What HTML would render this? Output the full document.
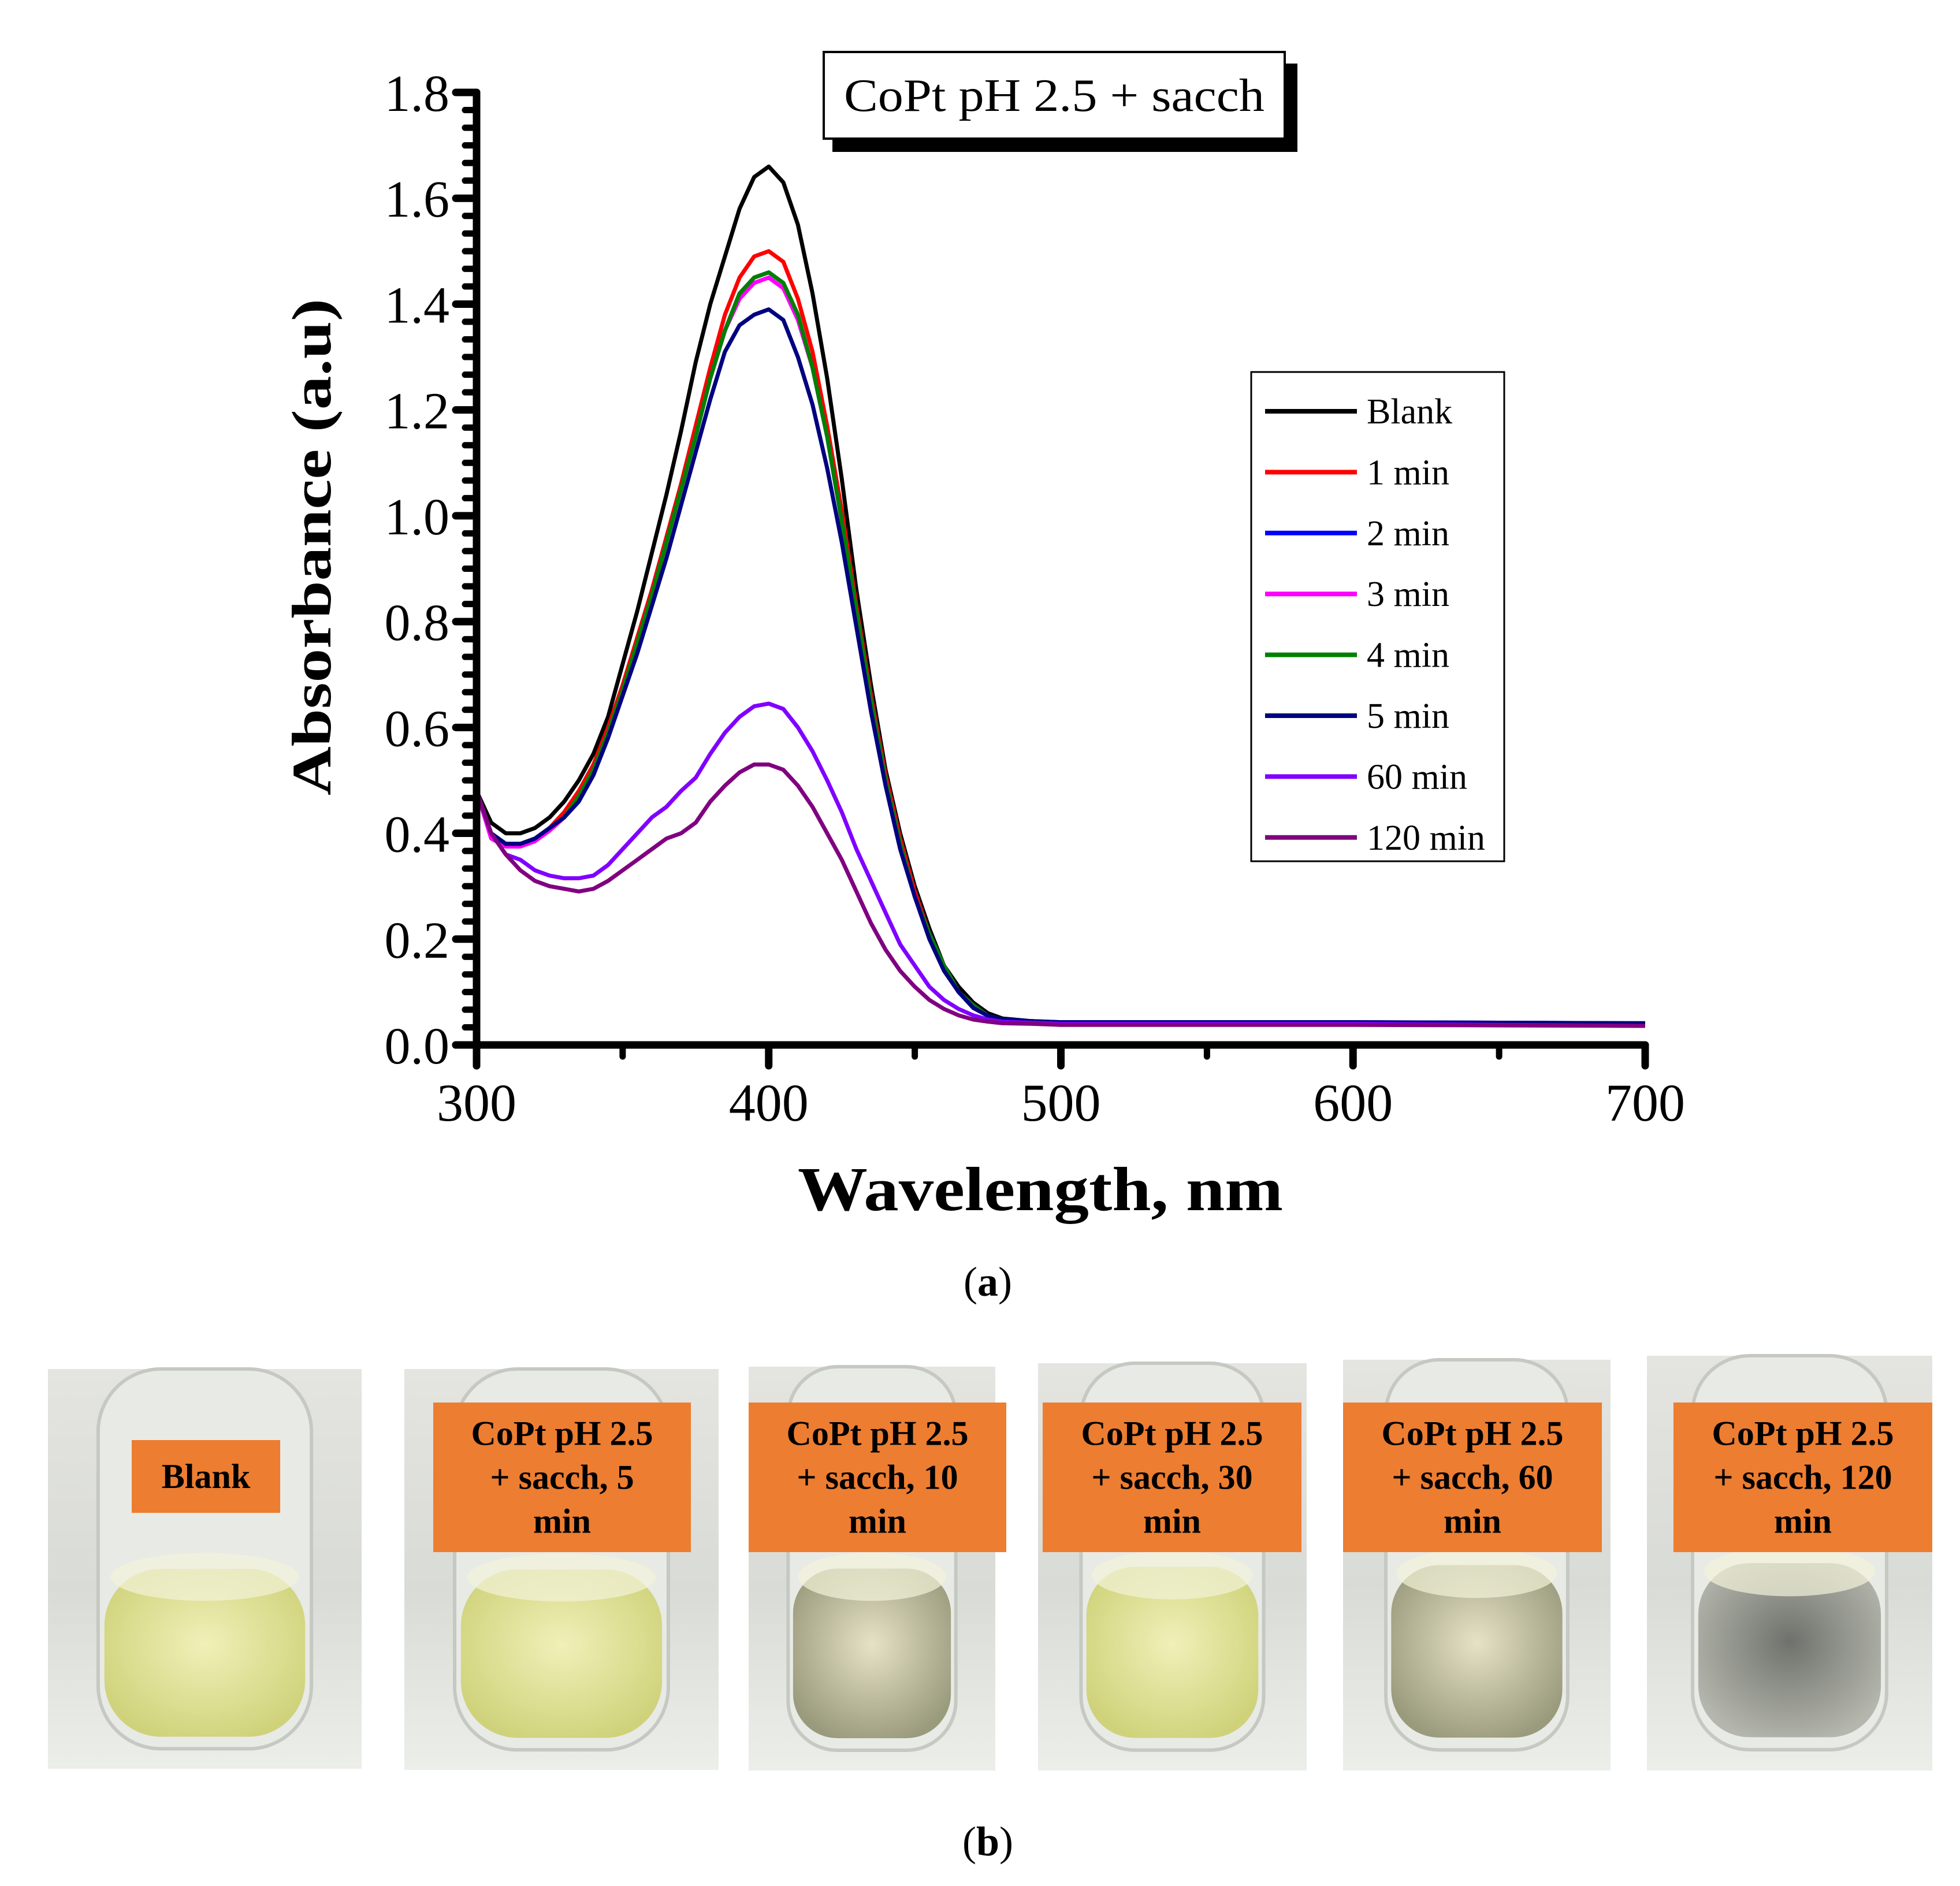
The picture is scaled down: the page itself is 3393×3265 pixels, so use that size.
<!DOCTYPE html>
<html><head><meta charset="utf-8"><style>
html,body{margin:0;padding:0;background:#fff;}
svg{display:block;font-family:"Liberation Serif",serif;}
</style></head><body>
<svg id="fig" width="3393" height="3265" viewBox="0 0 3393 3265" xmlns="http://www.w3.org/2000/svg">
<defs>
<linearGradient id="glassBg" x1="0" y1="0" x2="0" y2="1"><stop offset="0" stop-color="#e4e4e0"/><stop offset="0.55" stop-color="#d9dbd6"/><stop offset="1" stop-color="#eceeea"/></linearGradient>
<radialGradient id="liqY" cx="0.5" cy="0.45" r="0.6"><stop offset="0" stop-color="#f0f0b8"/><stop offset="1" stop-color="#cfd27a"/></radialGradient>
<radialGradient id="liqG" cx="0.5" cy="0.45" r="0.6"><stop offset="0" stop-color="#e6e2c6"/><stop offset="1" stop-color="#9a9a7c"/></radialGradient>
<radialGradient id="liqD" cx="0.5" cy="0.45" r="0.6"><stop offset="0" stop-color="#6f726c"/><stop offset="1" stop-color="#b5b7ae"/></radialGradient>
</defs>
<g id="chart"></g>
<g id="photos"></g>
<text x="1710" y="2243" font-size="72" text-anchor="middle">(<tspan font-weight="bold">a</tspan>)</text>
<text x="1710" y="3212" font-size="72" text-anchor="middle">(<tspan font-weight="bold">b</tspan>)</text>
</svg>
<script>
const wavelengths=[300,305,310,315,320,325,330,335,340,345,350,355,360,365,370,375,380,385,390,395,400,405,410,415,420,425,430,435,440,445,450,455,460,465,470,475,480,490,500,550,600,650,700];
const seriesNames=["Blank","1 min","2 min","3 min","4 min","5 min","60 min","120 min"];
const seriesColors=["#000000","#ff0000","#0000ff","#ff00ff","#008000","#000080","#8000ff","#800080"];
const blankVals=[0.48,0.42,0.40,0.40,0.41,0.43,0.46,0.50,0.55,0.62,0.72,0.82,0.93,1.04,1.16,1.29,1.40,1.49,1.58,1.64,1.66,1.63,1.55,1.42,1.26,1.07,0.86,0.68,0.52,0.40,0.30,0.22,0.15,0.11,0.08,0.06,0.05,0.045,0.042,0.042,0.042,0.04,0.038];
const min1Vals=[0.48,0.40,0.38,0.38,0.39,0.41,0.44,0.48,0.53,0.60,0.68,0.77,0.86,0.96,1.06,1.17,1.28,1.38,1.45,1.49,1.50,1.48,1.41,1.31,1.17,1.01,0.83,0.66,0.51,0.39,0.29,0.21,0.15,0.10,0.075,0.055,0.048,0.044,0.042,0.042,0.042,0.04,0.038];
const min2Vals=[0.48,0.40,0.38,0.38,0.39,0.41,0.43,0.47,0.52,0.59,0.67,0.76,0.85,0.95,1.05,1.15,1.26,1.35,1.42,1.45,1.46,1.44,1.38,1.28,1.15,0.99,0.82,0.65,0.50,0.38,0.28,0.21,0.15,0.10,0.075,0.055,0.048,0.045,0.043,0.043,0.043,0.042,0.041];
const min3Vals=[0.48,0.39,0.375,0.375,0.385,0.405,0.43,0.47,0.52,0.59,0.67,0.76,0.85,0.95,1.05,1.15,1.26,1.35,1.41,1.44,1.45,1.43,1.37,1.28,1.15,0.99,0.82,0.65,0.50,0.38,0.28,0.21,0.15,0.10,0.075,0.055,0.048,0.044,0.042,0.042,0.042,0.04,0.038];
const min4Vals=[0.48,0.40,0.38,0.38,0.39,0.41,0.43,0.47,0.52,0.59,0.67,0.76,0.85,0.95,1.05,1.15,1.26,1.35,1.42,1.45,1.46,1.44,1.38,1.28,1.15,0.99,0.82,0.65,0.50,0.38,0.28,0.21,0.15,0.10,0.075,0.055,0.048,0.044,0.042,0.042,0.042,0.04,0.038];
const min5Vals=[0.48,0.40,0.38,0.38,0.39,0.41,0.43,0.46,0.51,0.58,0.66,0.74,0.83,0.92,1.02,1.12,1.22,1.31,1.36,1.38,1.39,1.37,1.30,1.21,1.09,0.95,0.79,0.63,0.49,0.37,0.28,0.20,0.14,0.10,0.07,0.055,0.048,0.045,0.043,0.043,0.043,0.042,0.041];
const min60Vals=[0.48,0.40,0.36,0.35,0.33,0.32,0.315,0.315,0.32,0.34,0.37,0.40,0.43,0.45,0.48,0.505,0.55,0.59,0.62,0.64,0.645,0.635,0.60,0.555,0.50,0.44,0.37,0.31,0.25,0.19,0.15,0.11,0.085,0.068,0.056,0.048,0.044,0.042,0.04,0.04,0.04,0.038,0.036];
const min120Vals=[0.48,0.40,0.36,0.33,0.31,0.30,0.295,0.29,0.295,0.31,0.33,0.35,0.37,0.39,0.40,0.42,0.46,0.49,0.515,0.53,0.53,0.52,0.49,0.45,0.40,0.35,0.29,0.23,0.18,0.14,0.11,0.085,0.068,0.056,0.048,0.044,0.041,0.04,0.038,0.038,0.038,0.037,0.036];
const seriesValues=[blankVals,min1Vals,min2Vals,min3Vals,min4Vals,min5Vals,min60Vals,min120Vals];
const xTickLabels=["300","400","500","600","700"];
const yTickLabels=["0.0","0.2","0.4","0.6","0.8","1.0","1.2","1.4","1.6","1.8"];
const photoLabels=[["Blank"],["CoPt pH 2.5","+ sacch, 5","min"],["CoPt pH 2.5","+ sacch, 10","min"],["CoPt pH 2.5","+ sacch, 30","min"],["CoPt pH 2.5","+ sacch, 60","min"],["CoPt pH 2.5","+ sacch, 120","min"]];

const NS="http://www.w3.org/2000/svg";
const X0=825,X1=2848,Y0=1809,Y1=160,XMIN=300,XMAX=700,YMIN=0,YMAX=1.8;
function xs(v){return X0+(v-XMIN)/(XMAX-XMIN)*(X1-X0);}
function ys(v){return Y0-(v-YMIN)/(YMAX-YMIN)*(Y0-Y1);}
function mk(tag,attrs,parent){const e=document.createElementNS(NS,tag);for(const k in attrs)e.setAttribute(k,attrs[k]);parent.appendChild(e);return e;}
const chart=document.getElementById('chart');

seriesValues.forEach((vals,i)=>{
  const d=vals.map((v,j)=>(j?'L':'M')+xs(wavelengths[j]).toFixed(1)+' '+ys(v).toFixed(1)).join(' ');
  const p=mk('path',{d:d,fill:'none',stroke:seriesColors[i],'stroke-width':7,'stroke-linejoin':'round'},chart);
  
  
});

const ax=mk('g',{stroke:'#000','stroke-linecap':'round'},chart);


mk('line',{x1:X0,y1:Y0+36,x2:X0,y2:Y1,'stroke-width':13},ax);
mk('line',{x1:X0-36,y1:Y0,x2:X1,y2:Y0,'stroke-width':13},ax);
for(let k=0;k<=54;k++){const v=k*0.2/6;const y=ys(v);const major=(k%6===0);
  mk('line',{x1:X0,y1:y,x2:X0-(major?36:20),y2:y,'stroke-width':major?13:11},ax);}
for(let w=300;w<=700;w+=50){const major=(w%100===0);
  mk('line',{x1:xs(w),y1:Y0,x2:xs(w),y2:Y0+(major?36:20),'stroke-width':major?13:11},ax);}
yTickLabels.forEach((t,i)=>{
  const e=mk('text',{x:778,y:ys(parseFloat(t))+32,'font-size':90,'text-anchor':'end'},chart);e.textContent=t;
  
  
});
xTickLabels.forEach((t)=>{
  const e=mk('text',{x:xs(parseFloat(t)),y:1940,'font-size':92,'text-anchor':'middle'},chart);e.textContent=t;
  
  
});
let yt=mk('text',{x:0,y:0,'font-size':96,'font-weight':'bold','text-anchor':'middle',transform:'translate(572,947) rotate(-90)',textLength:860,lengthAdjust:'spacingAndGlyphs'},chart);
yt.textContent='Absorbance (a.u)';


let xt=mk('text',{x:1801,y:2095,'font-size':108,'font-weight':'bold','text-anchor':'middle',textLength:840,lengthAdjust:'spacingAndGlyphs'},chart);
xt.textContent='Wavelength, nm';



const tb=mk('g',{},chart);


mk('rect',{x:1441,y:110,width:805,height:153,fill:'#000'},tb);
mk('rect',{x:1426,y:90,width:798,height:150,fill:'#fff',stroke:'#000','stroke-width':4},tb);
let tt=mk('text',{x:1825,y:192,'font-size':80,'text-anchor':'middle',textLength:728,lengthAdjust:'spacingAndGlyphs'},tb);
tt.textContent='CoPt pH 2.5 + sacch';



const lg=mk('g',{},chart);


mk('rect',{x:2166,y:644,width:438,height:847,fill:'#fff',stroke:'#000','stroke-width':3},lg);
seriesNames.forEach((n,i)=>{
  const y=712+i*105.4;
  const g=mk('g',{},lg);
  
  
  mk('line',{x1:2190,y1:y,x2:2349,y2:y,stroke:seriesColors[i],'stroke-width':8},g);
  const t=mk('text',{x:2366,y:y+21,'font-size':62},g);t.textContent=n;
});

const photos=document.getElementById('photos');
const panels=[[83,2370,543,692,'liqY'],[700,2370,544,694,'liqY'],[1296,2366,427,699,'liqG'],[1797,2360,465,705,'liqY'],[2325,2354,463,711,'liqG'],[2851,2347,494,718,'liqD']];
const labelBoxes=[[228,2493,257,126],[750,2428,446,259],[1296,2428,446,259],[1805,2428,448,259],[2325,2428,448,259],[2897,2428,448,259]];
panels.forEach((p,i)=>{
  const g=mk('g',{},photos);
  
  
  const [x,y,w,h,liq]=p;
  mk('rect',{x:x,y:y,width:w,height:h,fill:'url(#glassBg)'},g);
  mk('rect',{x:x+w*0.16,y:y,width:w*0.68,height:h*0.95,rx:w*0.2,fill:'#e8eae6',stroke:'#c6c8c2','stroke-width':6},g);
  mk('rect',{x:x+w*0.18,y:y+h*0.5,width:w*0.64,height:h*0.42,rx:w*0.18,fill:'url(#'+liq+')'},g);
  mk('ellipse',{cx:x+w*0.5,cy:y+h*0.52,rx:w*0.3,ry:h*0.06,fill:'#f2f2d8',opacity:0.7},g);
  const [lx,ly,lw,lh]=labelBoxes[i];
  const lb=mk('g',{},g);
  
  
  mk('rect',{x:lx,y:ly,width:lw,height:lh,fill:'#ed7d31'},lb);
  const lines=photoLabels[i];
  lines.forEach((s,k)=>{
    const cy=ly+lh/2+(k-(lines.length-1)/2)*76+20;
    const t=mk('text',{x:lx+lw/2,y:cy,'font-size':60,'font-weight':'bold','text-anchor':'middle'},lb);t.textContent=s;
  });
});
</script>
</body></html>
